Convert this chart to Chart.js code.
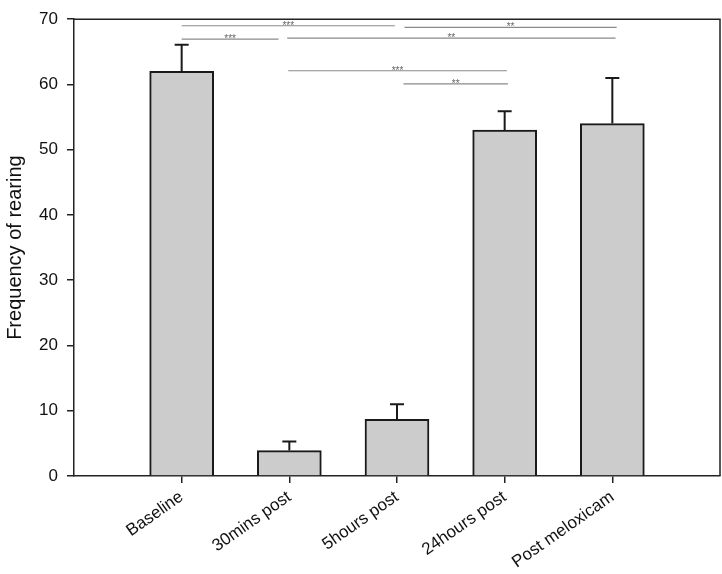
<!DOCTYPE html>
<html>
<head>
<meta charset="utf-8">
<script src="https://cdn.jsdelivr.net/npm/chart.js@4.4.1/dist/chart.umd.min.js"></script>
<style>
  html, body { margin: 0; padding: 0; background: #fff; }
  #wrap { width: 722px; height: 574px; }
</style>
</head>
<body>
<div id="wrap"><canvas id="chart"></canvas></div>
<script>
// categories and values
const categories = ['Baseline', '30mins post', '5hours post', '24hours post', 'Post meloxicam'];
const means = [62.0, 3.9, 8.7, 53.0, 54.0];
const errors = [4.1, 1.4, 2.3, 2.9, 7.0];
const yTicks = [0, 10, 20, 30, 40, 50, 60, 70];

// significance brackets (x in category positions, 1 = Baseline)
const sigFrom = [1.0, 3.07, 1.0, 1.98, 1.99, 3.06];
const sigTo = [2.98, 5.04, 1.9, 5.03, 4.02, 4.03];
const sigY = [69.0, 68.75, 66.95, 67.1, 62.1, 60.1];
const sigLabel = ['***', '**', '***', '**', '***', '**'];

const font = "'Liberation Sans', Arial, sans-serif";

// error bars, frame and significance lines
const extras = {
  id: 'extras',
  afterDatasetsDraw(chart) {
    const ctx = chart.ctx;
    const xs = chart.scales.x, ys = chart.scales.y;
    const area = chart.chartArea;
    ctx.save();

    // error bars (upper only)
    ctx.strokeStyle = '#1a1a1a';
    ctx.lineWidth = 2;
    means.forEach((m, i) => {
      const x = xs.getPixelForValue(i + 1);
      const yTop = ys.getPixelForValue(m);
      const yErr = ys.getPixelForValue(m + errors[i]);
      ctx.beginPath();
      ctx.moveTo(x, yTop);
      ctx.lineTo(x, yErr);
      ctx.moveTo(x - 7, yErr);
      ctx.lineTo(x + 7, yErr);
      ctx.stroke();
    });

    // top and right frame lines
    ctx.lineWidth = 1.5;
    ctx.strokeStyle = '#222';
    ctx.beginPath();
    ctx.moveTo(area.left, area.top);
    ctx.lineTo(area.right, area.top);
    ctx.lineTo(area.right, area.bottom);
    ctx.stroke();

    // significance lines
    ctx.strokeStyle = '#8a8a8a';
    ctx.fillStyle = '#666';
    ctx.lineWidth = 1.2;
    ctx.font = '10px ' + font;
    ctx.textAlign = 'center';
    ctx.textBaseline = 'alphabetic';
    sigY.forEach((v, i) => {
      const x1 = xs.getPixelForValue(sigFrom[i]);
      const x2 = xs.getPixelForValue(sigTo[i]);
      const y = ys.getPixelForValue(v);
      ctx.beginPath();
      ctx.moveTo(x1, y);
      ctx.lineTo(x2, y);
      ctx.stroke();
      ctx.fillText(sigLabel[i], (x1 + x2) / 2, y + 3);
    });
    ctx.restore();
  }
};

new Chart(document.getElementById('chart'), {
  type: 'bar',
  data: {
    datasets: [{
      data: means.map((v, i) => ({ x: i + 1, y: v })),
      backgroundColor: '#cccccc',
      borderColor: '#1a1a1a',
      borderWidth: 2,
      barThickness: 64,
    }],
  },
  options: {
    responsive: true,
    maintainAspectRatio: false,
    animation: false,
    layout: { padding: { top: 10, right: 2, left: 0, bottom: 0 } },
    plugins: {
      legend: { display: false },
      tooltip: { enabled: false },
    },
    scales: {
      x: {
        type: 'linear',
        min: 0,
        max: 6,
        offset: false,
        afterBuildTicks: (scale) => {
          scale.ticks = categories.map((c, i) => ({ value: i + 1 }));
        },
        afterFit: (scale) => { scale.height = 98; },
        grid: { offset: false, drawOnChartArea: false, drawTicks: true, tickLength: 7, color: '#222', lineWidth: 1.5 },
        border: { display: true, color: '#222', width: 1.5 },
        ticks: {
          autoSkip: false,
          minRotation: 35,
          maxRotation: 35,
          padding: 4,
          color: '#111',
          font: { family: font, size: 17 },
          callback: (v) => categories[v - 1],
        },
      },
      y: {
        min: 0,
        max: 70,
        afterBuildTicks: (scale) => {
          scale.ticks = yTicks.map((v) => ({ value: v }));
        },
        afterFit: (scale) => { scale.width = 74; },
        grid: { drawOnChartArea: false, drawTicks: true, tickLength: 7, color: '#222', lineWidth: 1.5 },
        border: { display: true, color: '#222', width: 1.5 },
        ticks: {
          padding: 9,
          color: '#111',
          font: { family: font, size: 17 },
        },
        title: {
          display: true,
          text: 'Frequency of rearing',
          color: '#111',
          font: { family: font, size: 20 },
          padding: { top: 3, bottom: 0 },
        },
      },
    },
  },
  plugins: [extras],
});
</script>
</body>
</html>
